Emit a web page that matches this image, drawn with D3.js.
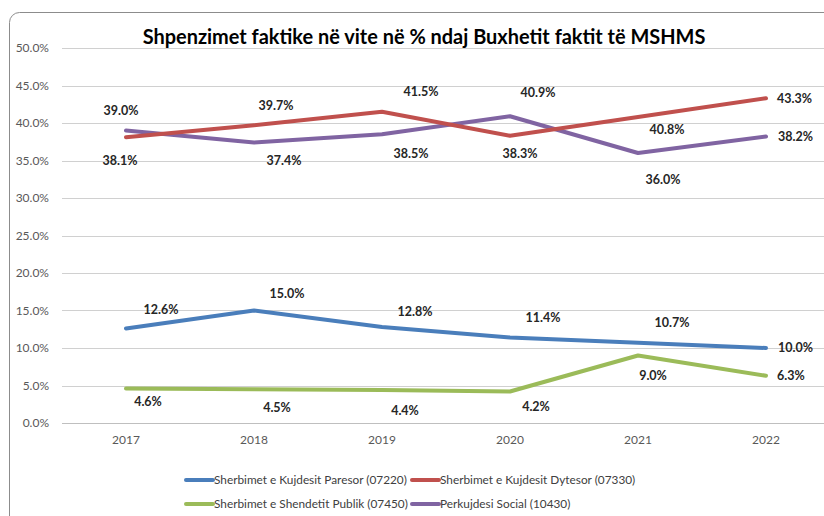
<!DOCTYPE html>
<html><head><meta charset="utf-8">
<script src="https://cdn.jsdelivr.net/npm/d3@7"></script>
<style>body{margin:0;background:#fff}svg{display:block}</style>
</head><body>
<script>
const years = ["2017","2018","2019","2020","2021","2022"];
const yTicks = [0,5,10,15,20,25,30,35,40,45,50];
const seriesNames = ["Sherbimet e Kujdesit Paresor (07220)","Sherbimet e Kujdesit Dytesor (07330)","Sherbimet e Shendetit Publik (07450)","Perkujdesi Social (10430)"];
const paresor = [12.6,15.0,12.8,11.4,10.7,10.0];
const dytesor = [38.1,39.7,41.5,38.3,40.8,43.3];
const publik  = [4.6,4.5,4.4,4.2,9.0,6.3];
const social  = [39.0,37.4,38.5,40.9,36.0,38.2];
const colors = ["#4a7ebb","#c0504d","#9bbb59","#8064a2"];
const title = "Shpenzimet faktike në vite në % ndaj Buxhetit faktit të MSHMS";
// label offsets (dx, dy) in px relative to each point; layout only (last point: left-aligned start)
const labelOffsets = [
  [[35,-19],[33,-17],[33,-15],[33,-20],[34,-20],[12,0]],
  [[-6,23],[22,-20],[39,-20],[10,18],[29,13],[11,0]],
  [[22,13],[23,18],[23,21],[26,15],[15,20],[11,0]],
  [[-5,-20],[30,18],[29,19],[28,-24],[25,27],[12,0]]
];
const W=824,H=516;
const svg=d3.select("body").append("svg").attr("width",W).attr("height",H);
svg.append("rect").attr("x",9.5).attr("y",12.5).attr("width",900).attr("height",600).attr("rx",10)
  .attr("fill","#fff").attr("stroke","#8c8c8c").attr("stroke-width",1);
const x=d3.scaleBand().domain(years).range([62,830]);
const y=d3.scaleLinear().domain([0,50]).range([423,48]);
const font="Lato, 'Open Sans', sans-serif";
// grid
svg.append("g").selectAll("line").data(yTicks).join("line")
  .attr("x1",62).attr("x2",W).attr("y1",d=>Math.round(y(d))+0.5).attr("y2",d=>Math.round(y(d))+0.5)
  .attr("stroke",d=>d===0?"#bfbfbf":"#d0d0d0").attr("stroke-width",1);
const yAxis=d3.axisLeft(y).tickValues(yTicks).tickFormat(d=>d.toFixed(1)+"%").tickSize(0).tickPadding(0);
const ya=svg.append("g").attr("transform","translate(49,0)").call(yAxis);
ya.select(".domain").remove();
ya.selectAll("text").attr("font-family",font).attr("font-size",12).attr("fill","#595959");
const xAxis=d3.axisBottom(x).tickSize(0).tickPadding(0);
const xa=svg.append("g").attr("transform","translate(0,435)").call(xAxis);
xa.select(".domain").remove();
xa.selectAll("text").attr("font-family",font).attr("font-size",12).attr("fill","#595959");
// title
const t=svg.append("text").attr("x",424).attr("y",44).attr("text-anchor","middle")
  .attr("font-family",font).attr("font-weight","bold").attr("font-size",18).attr("fill","#000").text(title);
const tw=t.node().getComputedTextLength();
t.attr("font-size",18*563/tw);
const all=[paresor,dytesor,publik,social];
const line=d3.line().x((d,i)=>x(years[i])+x.bandwidth()/2).y(d=>y(d));
const drawOrder=[0,2,3,1];
drawOrder.forEach(si=>{
  svg.append("path").datum(all[si]).attr("d",line).attr("fill","none")
    .attr("stroke",colors[si]).attr("stroke-width",4).attr("stroke-linejoin","round").attr("stroke-linecap","round");
});
all.forEach((vals,si)=>{
  svg.append("g").selectAll("text").data(vals).join("text")
    .attr("x",(d,i)=>x(years[i])+x.bandwidth()/2+labelOffsets[si][i][0])
    .attr("y",(d,i)=>y(d)+labelOffsets[si][i][1])
    .attr("dy","0.35em")
    .attr("text-anchor",(d,i)=>i===5?"start":"middle")
    .attr("font-family",font).attr("font-weight","bold").attr("font-size",12.5).attr("fill","#262626")
    .text(d=>d.toFixed(1)+"%");
});
// legend
const legPos=[[186,480],[412,480],[186,504],[412,504]];
const probe=svg.append("text").attr("font-family",font).attr("font-size",12).text(seriesNames[0]);
const legSize=12*193/probe.node().getComputedTextLength();
probe.remove();
seriesNames.forEach((n,i)=>{
  const [lx,ly]=legPos[i];
  svg.append("line").attr("x1",lx).attr("x2",lx+27).attr("y1",ly).attr("y2",ly)
    .attr("stroke",colors[i]).attr("stroke-width",4).attr("stroke-linecap","round");
  svg.append("text").attr("x",lx+28).attr("y",ly).attr("dy","0.35em")
    .attr("font-family",font).attr("font-size",legSize).attr("fill","#404040").text(n);
});
</script>
</body></html>
